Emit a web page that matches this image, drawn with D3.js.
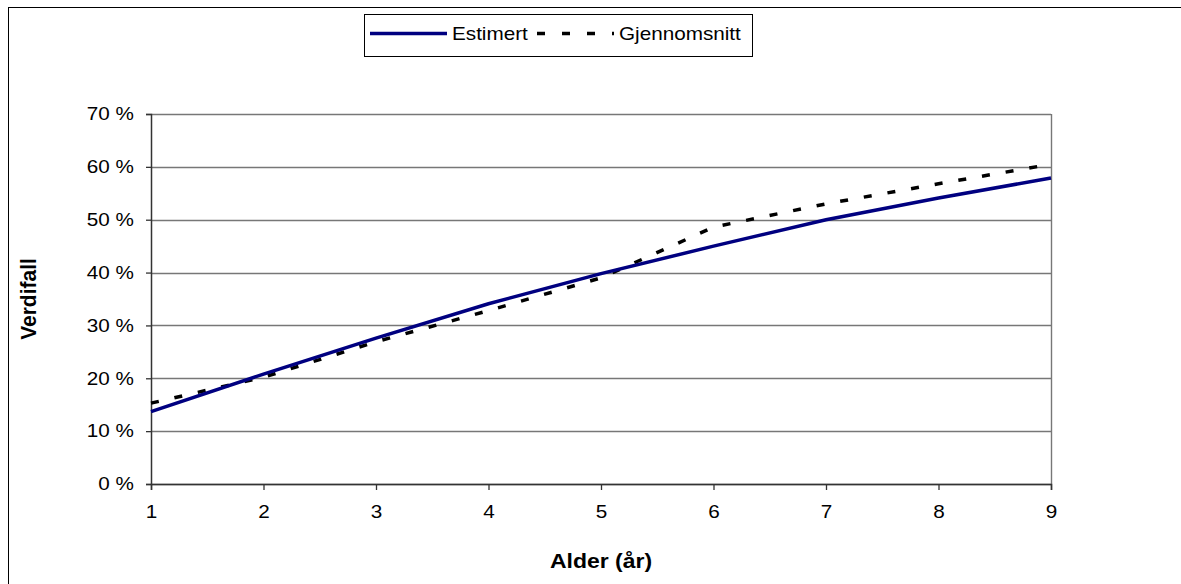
<!DOCTYPE html>
<html>
<head>
<meta charset="utf-8">
<script src="https://cdn.jsdelivr.net/npm/d3@7"></script>
<style>
  body { margin: 0; background: #fff; }
  text { font-family: "Liberation Sans", Arial, sans-serif; fill: #000; }
</style>
</head>
<body>
<div id="chart"></div>
<script>
// data
const ages = [1, 2, 3, 4, 5, 6, 7, 8, 9];
const estimert = [13.7, 20.8, 27.6, 34.1, 39.8, 45.0, 50.0, 54.1, 57.9];
const gjennomsnitt = [15.3, 20.2, 26.9, 32.8, 39.0, 48.6, 53.0, 56.8, 60.5];
const yTicks = [0, 10, 20, 30, 40, 50, 60, 70];
const seriesNames = ['Estimert', 'Gjennomsnitt'];

const W = 1181, H = 584;
const margin = { left: 151, right: 130, top: 114, bottom: 100 };
const width = W - margin.left - margin.right;
const height = H - margin.top - margin.bottom;
const stretch = 1.15; // text in the picture is a bit wide

const svg = d3.select('#chart')
  .append('svg')
  .attr('width', W)
  .attr('height', H);

// outer chart border (only left and top show)
svg.append('rect')
  .attr('x', 8.5).attr('y', 7.5)
  .attr('width', W + 20).attr('height', H + 20)
  .attr('fill', 'none')
  .attr('stroke', '#000')
  .attr('stroke-width', 1);

const g = svg.append('g')
  .attr('transform', 'translate(' + margin.left + ',' + margin.top + ')');

const x = d3.scaleLinear().domain([1, 9]).range([0, width]);
const y = d3.scaleLinear().domain([0, 70]).range([height, 0]);

// gridlines
g.append('g')
  .selectAll('line')
  .data(yTicks)
  .enter()
  .append('line')
  .attr('x1', 0).attr('x2', width)
  .attr('y1', d => Math.round(y(d)) + 0.5)
  .attr('y2', d => Math.round(y(d)) + 0.5)
  .attr('stroke', '#777')
  .attr('stroke-width', 1.4);

// right side of plot area
g.append('line')
  .attr('x1', width + 0.5).attr('x2', width + 0.5)
  .attr('y1', 0).attr('y2', height)
  .attr('stroke', '#777')
  .attr('stroke-width', 1.4);

// Y axis
const yAxis = g.append('g')
  .call(d3.axisLeft(y).tickValues(yTicks).tickSize(5).tickPadding(12).tickFormat(d => d + ' %'));
yAxis.select('.domain').attr('stroke', '#333').attr('stroke-width', 1.5);
yAxis.selectAll('.tick line').attr('stroke', '#333').attr('stroke-width', 1.3);
yAxis.selectAll('.tick text')
  .attr('font-size', 18)
  .attr('font-family', '"Liberation Sans", Arial, sans-serif')
  .attr('fill', '#000')
  .attr('x', null)
  .attr('transform', 'translate(-17,0) scale(' + stretch + ',1)');

// X axis
const xAxis = g.append('g')
  .attr('transform', 'translate(0,' + height + ')')
  .call(d3.axisBottom(x).tickValues(ages).tickSize(6).tickPadding(15).tickFormat(d3.format('d')));
xAxis.select('.domain').attr('stroke', '#333').attr('stroke-width', 1.5);
xAxis.selectAll('.tick line').attr('stroke', '#333').attr('stroke-width', 1.3);
xAxis.selectAll('.tick text')
  .attr('font-size', 18)
  .attr('font-family', '"Liberation Sans", Arial, sans-serif')
  .attr('fill', '#000')
  .attr('transform', 'scale(' + stretch + ',1)')
  .attr('x', 0);

// lines
const line = d3.line()
  .x((d, i) => x(ages[i]))
  .y(d => y(d));

g.append('path')
  .datum(gjennomsnitt)
  .attr('d', line)
  .attr('fill', 'none')
  .attr('stroke', '#000')
  .attr('stroke-width', 3.5)
  .attr('stroke-dasharray', '8,16');

g.append('path')
  .datum(estimert)
  .attr('d', line)
  .attr('fill', 'none')
  .attr('stroke', '#000080')
  .attr('stroke-width', 3.5);

// axis titles
svg.append('text')
  .attr('transform', 'translate(' + (margin.left + width / 2) + ',568) scale(' + stretch + ',1)')
  .attr('text-anchor', 'middle')
  .attr('font-size', 20)
  .attr('font-weight', 'bold')
  .text('Alder (år)');

svg.append('text')
  .attr('transform', 'translate(36,' + (margin.top + height / 2) + ') rotate(-90) scale(1.05,1.1)')
  .attr('text-anchor', 'middle')
  .attr('font-size', 20)
  .attr('font-weight', 'bold')
  .text('Verdifall');

// legend
const legend = svg.append('g');
legend.append('rect')
  .attr('x', 364.5).attr('y', 14.5)
  .attr('width', 388).attr('height', 42)
  .attr('fill', '#fff')
  .attr('stroke', '#000')
  .attr('stroke-width', 1);

const legendItems = [
  { name: seriesNames[0], x1: 370, x2: 447, tx: 452, color: '#000080', dash: null },
  { name: seriesNames[1], x1: 537, x2: 614, tx: 619, color: '#000', dash: '8,17' }
];
legendItems.forEach(d => {
  legend.append('line')
    .attr('x1', d.x1).attr('x2', d.x2)
    .attr('y1', 33.5).attr('y2', 33.5)
    .attr('stroke', d.color)
    .attr('stroke-width', 3.5)
    .attr('stroke-dasharray', d.dash);
  legend.append('text')
    .attr('transform', 'translate(' + d.tx + ',40) scale(' + stretch + ',1)')
    .attr('font-size', 18)
    .text(d.name);
});
</script>
</body>
</html>
